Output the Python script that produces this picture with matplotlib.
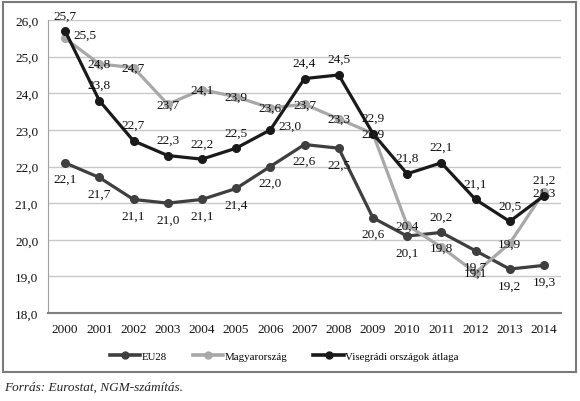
import matplotlib.pyplot as plt
from matplotlib.patches import Rectangle
from matplotlib.lines import Line2D

years = [str(y) for y in range(2000, 2015)]
eu28 = [22.1, 21.7, 21.1, 21.0, 21.1, 21.4, 22.0, 22.6, 22.5, 20.6, 20.1, 20.2, 19.7, 19.2, 19.3]
hungary = [25.5, 24.8, 24.7, 23.7, 24.1, 23.9, 23.6, 23.7, 23.3, 22.9, 20.4, 19.8, 19.1, 19.9, 21.3]
visegrad = [25.7, 23.8, 22.7, 22.3, 22.2, 22.5, 23.0, 24.4, 24.5, 22.9, 21.8, 22.1, 21.1, 20.5, 21.2]
series_names = ['EU28', 'Magyarország', 'Visegrádi országok átlaga']

# label placement per point: b = below, a = above, c = centre, r = right
eu_pos = ['b'] * 11 + ['a'] + ['b'] * 3
hu_pos = ['r'] + ['c'] * 14
v4_pos = ['a'] * 6 + ['r'] + ['a'] * 8

plt.rcParams['font.family'] = ['Liberation Serif', 'DejaVu Serif']

fig = plt.figure(figsize=(5.8, 4.02), dpi=100)
ax = fig.add_axes([48 / 580, 1 - 314 / 402, 513 / 580, 293 / 402])

colors = ['#3f3f3f', '#a8a8a8', '#1a1a1a']
x = list(range(len(years)))
offsets = {'a': (0, 7), 'b': (0, -16), 'c': (0, -4.5), 'r': (6, -1.5)}

for vals, pos, col, name in zip([eu28, hungary, visegrad], [eu_pos, hu_pos, v4_pos],
                                 colors, series_names):
    ax.plot(x, vals, color=col, lw=2.3, marker='o', ms=5.5, zorder=3, label=name)
    for xi, v, p in zip(x, vals, pos):
        dx, dy = offsets[p]
        ax.annotate(f"{v:.1f}".replace('.', ','), (xi, v), xytext=(dx, dy),
                    textcoords='offset points', ha='left' if p == 'r' else 'center',
                    va='bottom', fontsize=9.5, color='#111111', zorder=4,
                    annotation_clip=False)

ax.set_xlim(-0.5, len(years) - 0.5)
ax.set_ylim(18, 26)
ax.set_xticks(x)
ax.set_xticklabels(years)
ax.set_yticks([18 + i for i in range(9)])
ax.set_yticklabels([f"{18 + i},0" for i in range(9)])
ax.tick_params(length=0, labelsize=9.5, colors='#111111', pad=7)
ax.grid(axis='y', color='#c8c8c8', lw=1)
ax.set_axisbelow(True)
for s in ['top', 'right']:
    ax.spines[s].set_visible(False)
ax.spines['left'].set_color('#a0a0a0')
ax.spines['bottom'].set_color('#808080')
ax.spines['bottom'].set_linewidth(1.5)

handles = [Line2D([], [], color=c, lw=2.6, marker='o', ms=5) for c in colors]
fig.legend(handles, series_names, loc='center', bbox_to_anchor=(0.49, 1 - 357 / 402),
           ncol=3, frameon=False, fontsize=7.8, handlelength=2.8, columnspacing=2.4,
           handletextpad=0.15)

fig.patches.append(Rectangle((3 / 580, 1 - 373 / 402), 573 / 580, 370 / 402,
                             transform=fig.transFigure, fill=False,
                             edgecolor='#7a7a7a', lw=1.5))
fig.text(4 / 580, 1 - 388 / 402, 'Forrás: Eurostat, NGM-számítás.', style='italic',
         fontsize=9.5, va='center', color='#222222')

fig.savefig('out.png', dpi=100)
